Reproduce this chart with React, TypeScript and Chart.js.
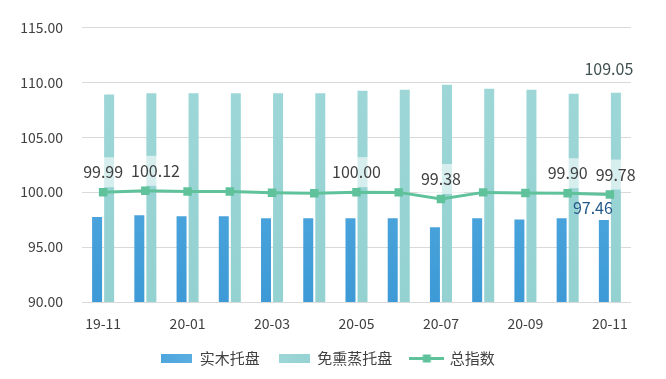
import React, { useEffect, useRef } from 'react';
import { Chart, registerables } from 'chart.js';

Chart.register(...registerables);

const categories = ['19-11', '19-12', '20-01', '20-02', '20-03', '20-04', '20-05', '20-06', '20-07', '20-08', '20-09', '20-10', '20-11'];
const solidWood = [97.73, 97.89, 97.8, 97.8, 97.62, 97.62, 97.62, 97.62, 96.8, 97.62, 97.52, 97.62, 97.46];
const fumigationFree = [108.9, 109.0, 109.0, 109.0, 109.0, 109.0, 109.24, 109.33, 109.78, 109.41, 109.33, 108.96, 109.05];
const totalIndex = [99.99, 100.12, 100.05, 100.05, 99.95, 99.9, 100.0, 99.98, 99.38, 99.98, 99.93, 99.9, 99.78];
const seriesNames = ['实木托盘', '免熏蒸托盘', '总指数'];
const yMin = 90;
const yMax = 115;
const yStep = 5;
const labeledLinePoints = [0, 1, 6, 8, 11, 12];

const FONT = '"Noto Sans CJK SC", "Noto Sans", sans-serif';
const TEXT = '#404040';
const BLUE_TOP = '#63b5e6';
const BLUE_BOTTOM = '#3d9ad6';
const TEAL_TOP = '#a0d8d8';
const TEAL_BOTTOM = '#94d1d1';
const LINE = '#5fc29b';

function vGrad(ctx: any, top: string, bottom: string) {
  const chart = ctx.chart;
  const a = chart.chartArea;
  if (!a) return top;
  const g = chart.ctx.createLinearGradient(0, a.top, 0, a.bottom);
  g.addColorStop(0, top);
  g.addColorStop(1, bottom);
  return g;
}

function makeSwatch(kind: 'blue' | 'teal' | 'line') {
  const c = document.createElement('canvas');
  const w = kind === 'line' ? 35 : 31;
  const h = 9;
  c.width = w;
  c.height = h;
  const g = c.getContext('2d')!;
  if (kind === 'line') {
    g.fillStyle = LINE;
    g.fillRect(0, 3, w, 3);
    g.fillRect(w / 2 - 4, 0.5, 8, 8);
  } else {
    const gr = g.createLinearGradient(0, 0, w, 0);
    if (kind === 'blue') {
      gr.addColorStop(0, '#4fa6dd');
      gr.addColorStop(1, '#5aaee2');
    } else {
      gr.addColorStop(0, '#9dd6d6');
      gr.addColorStop(1, '#97d3d3');
    }
    g.fillStyle = gr;
    g.fillRect(0, 0, w, h);
  }
  return c;
}

const labelPlugin = {
  id: 'valueLabels',
  afterDatasetsDraw(chart: any) {
    const ctx = chart.ctx;
    ctx.save();
    ctx.font = '16px ' + FONT;
    ctx.textAlign = 'center';
    ctx.textBaseline = 'middle';
    const draw = (text: string, x: number, y: number, color: string, box: boolean) => {
      if (box) {
        const w = ctx.measureText(text).width + 6;
        const h = 30;
        ctx.fillStyle = 'rgba(255,255,255,0.6)';
        ctx.fillRect(x - w / 2, y - h / 2, w, h);
      }
      ctx.fillStyle = color;
      ctx.fillText(text, x, y);
    };
    const lineMeta = chart.getDatasetMeta(2);
    let prevRight = -Infinity;
    labeledLinePoints.forEach((i) => {
      const p = lineMeta.data[i];
      const text = totalIndex[i].toFixed(2);
      const w = ctx.measureText(text).width;
      let x = p.x;
      if (x - w / 2 < prevRight + 8) x = prevRight + 8 + w / 2;
      prevRight = x + w / 2;
      draw(text, x, p.y - 20, TEXT, true);
    });
    const last = categories.length - 1;
    const b0 = chart.getDatasetMeta(0).data[last];
    draw(solidWood[last].toFixed(2), b0.x - 11, b0.y - 12, '#22598a', false);
    const b1 = chart.getDatasetMeta(1).data[last];
    draw(fumigationFree[last].toFixed(2), b1.x - 7, b1.y - 24, '#3f5050', false);
    ctx.restore();
  },
};

export default function App() {
  const ref = useRef<HTMLCanvasElement>(null);
  useEffect(() => {
    if (!ref.current) return;
    const swatches = [makeSwatch('blue'), makeSwatch('teal'), makeSwatch('line')];
    const chart = new Chart(ref.current, {
      type: 'bar',
      data: {
        labels: categories,
        datasets: [
          {
            type: 'bar',
            label: seriesNames[0],
            data: solidWood,
            backgroundColor: (c: any) => vGrad(c, BLUE_TOP, BLUE_BOTTOM),
            categoryPercentage: 0.57,
            barPercentage: 0.83,
            order: 1,
          },
          {
            type: 'bar',
            label: seriesNames[1],
            data: fumigationFree,
            backgroundColor: (c: any) => vGrad(c, TEAL_TOP, TEAL_BOTTOM),
            categoryPercentage: 0.57,
            barPercentage: 0.83,
            order: 1,
          },
          {
            type: 'line',
            label: seriesNames[2],
            data: totalIndex,
            borderColor: LINE,
            backgroundColor: LINE,
            borderWidth: 3,
            pointStyle: 'rect',
            pointRadius: 6,
            pointBorderWidth: 0,
            pointBackgroundColor: LINE,
            tension: 0,
            order: 0,
          } as any,
        ],
      },
      options: {
        animation: false,
        responsive: false,
        maintainAspectRatio: false,
        layout: { padding: { left: 0, right: 10, top: 26, bottom: 3 } },
        plugins: {
          tooltip: { enabled: false },
          legend: {
            position: 'bottom',
            labels: {
              usePointStyle: true,
              pointStyleWidth: 31,
              boxHeight: 9,
              padding: 19,
              color: TEXT,
              font: { family: FONT, size: 15 },
              generateLabels: (ch: any) =>
                ch.data.datasets.map((ds: any, i: number) => ({
                  text: ds.label,
                  pointStyle: swatches[i],
                  fillStyle: 'transparent',
                  strokeStyle: 'transparent',
                  lineWidth: 0,
                  hidden: false,
                  datasetIndex: i,
                  fontColor: TEXT,
                })),
            },
          },
        },
        scales: {
          x: {
            grid: { display: false, drawTicks: false },
            border: { display: false },
            afterFit: (s: any) => {
              s.height = 30;
            },
            ticks: {
              autoSkip: false,
              maxRotation: 0,
              padding: 13,
              color: TEXT,
              font: { family: FONT, size: 14 },
              callback: (_v: any, i: number) => (i % 2 === 0 ? categories[i] : ''),
            },
          },
          y: {
            min: yMin,
            max: yMax,
            afterFit: (s: any) => {
              s.width = 82;
            },
            grid: { color: '#d9d9d9', drawTicks: false, lineWidth: 1 },
            border: { display: false },
            ticks: {
              stepSize: yStep,
              padding: 19,
              color: TEXT,
              font: { family: FONT, size: 14 },
              callback: (v: any) => Number(v).toFixed(2),
            },
          },
          y2: {
            position: 'right',
            display: true,
            afterFit: (s: any) => {
              s.width = 25;
            },
            grid: { display: false, drawTicks: false },
            border: { display: false },
            ticks: { display: false },
          },
        },
      },
      plugins: [labelPlugin],
    } as any);
    return () => chart.destroy();
  }, []);
  return (
    <div style={{ position: 'fixed', left: 0, top: 0, width: 666, height: 379, background: '#fff' }}>
      <canvas ref={ref} width={666} height={379} style={{ display: 'block', width: 666, height: 379 }} />
    </div>
  );
}
